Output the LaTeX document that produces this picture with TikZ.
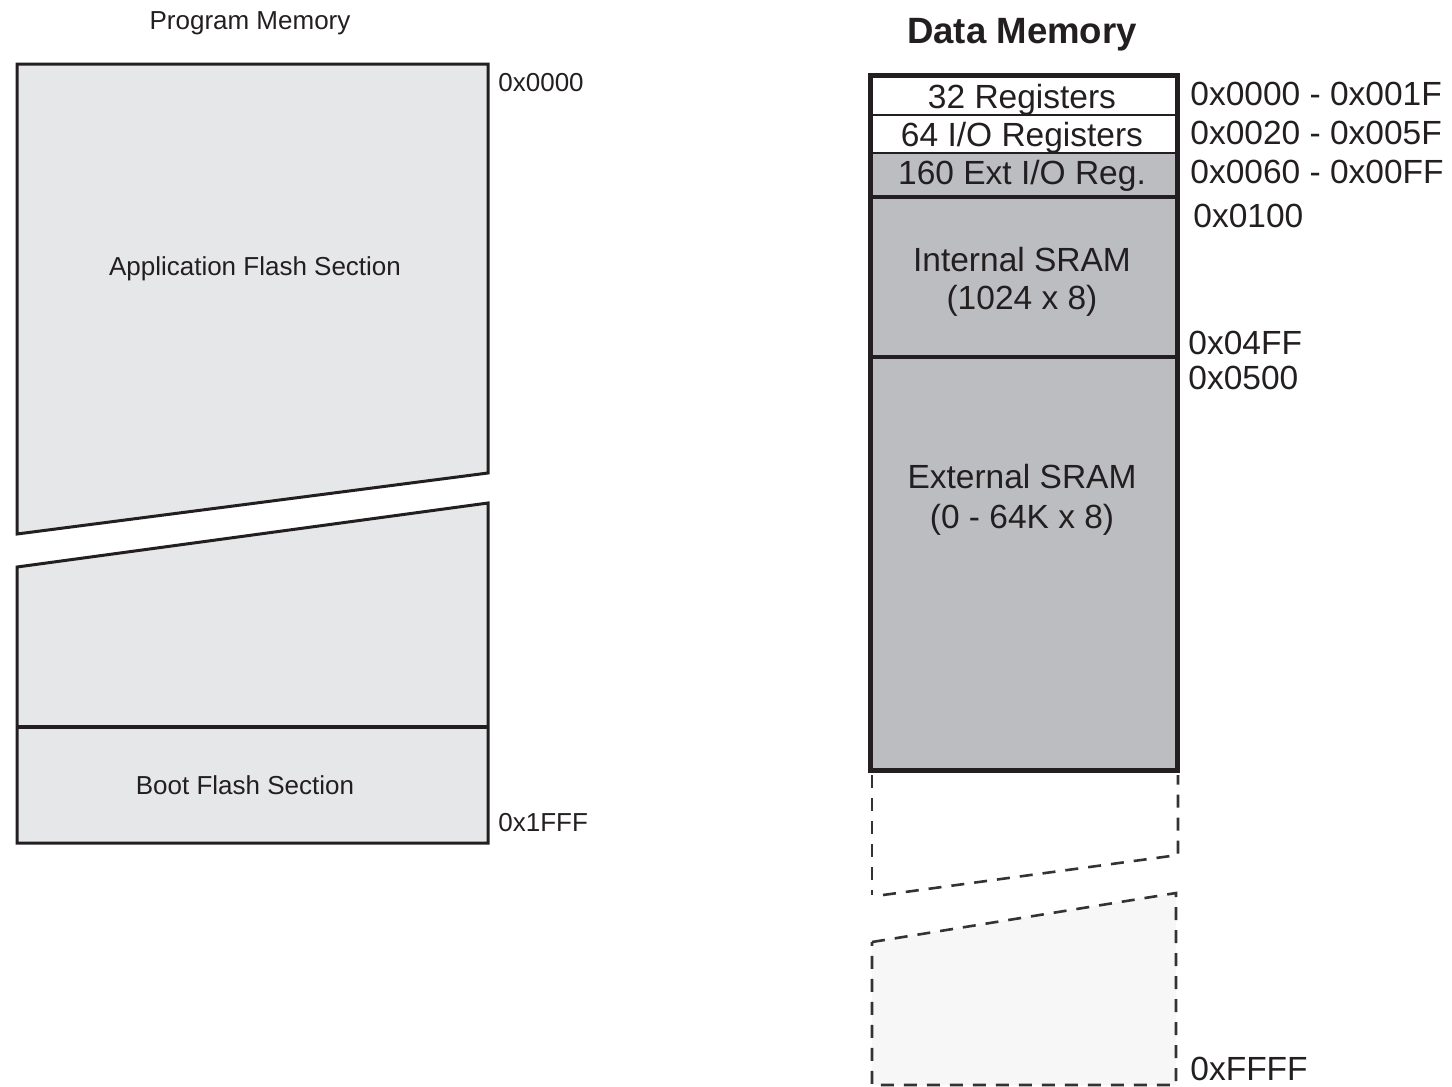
\documentclass[tikz,border=0pt]{standalone}
\usepackage{fontspec}
\setmainfont{Liberation Sans}
\definecolor{pmfill}{HTML}{E6E7E8}
\definecolor{dmgray}{HTML}{BCBDC1}
\definecolor{ink}{HTML}{231F20}
\definecolor{dashfill}{HTML}{F7F7F7}
\definecolor{dashink}{HTML}{333333}
\begin{document}
\begin{tikzpicture}[x=0.5pt,y=-0.5pt,
  pmtext/.style={font=\fontsize{13}{15}\selectfont, text=ink, inner sep=0pt, text height=9.3pt, text depth=0pt},
  dmtext/.style={font=\fontsize{16.75}{19}\selectfont, text=ink, inner sep=0pt, text height=12pt, text depth=0pt},
  dmtitle/.style={font=\fontsize{18.3}{21}\selectfont\bfseries, text=ink, inner sep=0pt, text height=13.1pt, text depth=0pt},
  pmbox/.style={draw=ink, line width=1.5pt, fill=pmfill, line join=miter},
  pmline/.style={draw=ink, line width=2pt},
  dmthin/.style={draw=ink, line width=1.4pt},
  dmthick/.style={draw=ink, line width=2pt},
  dmouter/.style={draw=ink, line width=2.5pt},
  dashpart/.style={draw=dashink, line width=1.3pt, dash pattern=on 6.5pt off 5pt}
]
\useasboundingbox (0,0) rectangle (1452,1087);

% ---------- Program memory ----------
\draw[pmbox] (17,64) -- (488,64) -- (488,473) -- (17,534) -- cycle;
\draw[pmbox] (17,567) -- (488,503) -- (488,843) -- (17,843) -- cycle;
\draw[pmline] (17,727) -- (488,727);

\node[pmtext] (pmtitle) at (250,20) {Program Memory};
\node[pmtext, anchor=west] (pm0) at (498,82) {0x0000};
\node[pmtext] (app) at (255,266) {Application Flash Section};
\node[pmtext] (boot) at (245,785) {Boot Flash Section};
\node[pmtext, anchor=west] (pmend) at (498,822) {0x1FFF};

% ---------- Data memory ----------
\fill[white] (870,75) rectangle (1177,153);
\fill[dmgray] (870,153) rectangle (1177,770);
\draw[dmthin] (870,115) -- (1177,115);
\draw[dmthin] (870,153) -- (1177,153);
\draw[dmthick] (870,197) -- (1177,197);
\draw[dmthick] (870,357) -- (1177,357);
\draw[dmouter] (870,75) rectangle (1177,770);

\draw[dashpart] (872,775) -- (872,895);
\draw[dashpart] (883,895) -- (1178,855) -- (1178,775);
\filldraw[dashpart, fill=dashfill] (872,942) -- (1176,893) -- (1176,1085) -- (872,1085) -- cycle;

\node[dmtitle] (dmt) at (1022,30) {Data Memory};
\node[dmtext] (r32) at (1022,96) {32 Registers};
\node[dmtext] (r64) at (1022,134) {64 I/O Registers};
\node[dmtext] (r160) at (1022,172) {160 Ext I/O Reg.};
\node[dmtext] (isram1) at (1022,259) {Internal SRAM};
\node[dmtext] (isram2) at (1022,297) {(1024 x 8)};
\node[dmtext] (esram1) at (1022,476) {External SRAM};
\node[dmtext] (esram2) at (1022,516) {(0 - 64K x 8)};

\node[dmtext, anchor=west] (a1) at (1190,93) {0x0000 - 0x001F};
\node[dmtext, anchor=west] (a2) at (1190,132) {0x0020 - 0x005F};
\node[dmtext, anchor=west] (a3) at (1190,171) {0x0060 - 0x00FF};
\node[dmtext, anchor=west] (a4) at (1193,215) {0x0100};
\node[dmtext, anchor=west] (a5) at (1188,342) {0x04FF};
\node[dmtext, anchor=west] (a6) at (1188,377) {0x0500};
\node[dmtext, anchor=west] (a7) at (1190,1068) {0xFFFF};
\end{tikzpicture}
\end{document}
